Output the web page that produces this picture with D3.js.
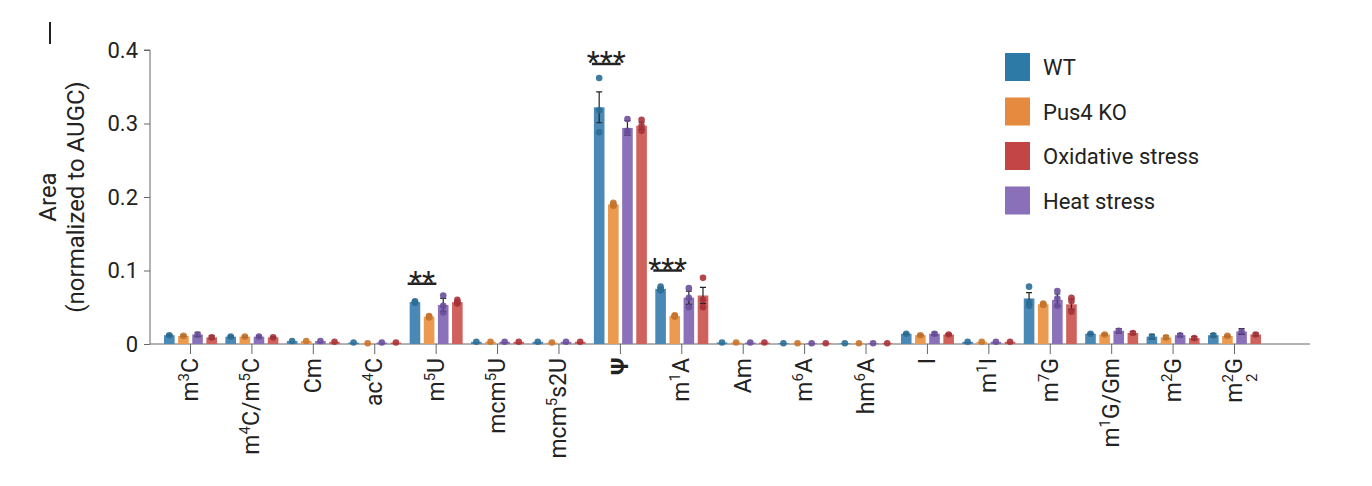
<!DOCTYPE html>
<html><head><meta charset="utf-8">
<script src="https://cdn.jsdelivr.net/npm/d3@7"></script>
<style>body{margin:0;background:#fff}text{font-family:Roboto,"Open Sans",sans-serif;fill:#222}</style>
</head><body>
<svg id="chart" width="1372" height="486"></svg>
<script>
// labels: [text, "n" normal | "sup" | "sub"]
const categories = ["m3C","m4C/m5C","Cm","ac4C","m5U","mcm5U","mcm5s2U","Ψ","m1A","Am","m6A","hm6A","I","m1I","m7G","m1G/Gm","m2G","m22G"];
const labelParts = [
  [["m","n"],["3","sup"],["C","n"]],
  [["m","n"],["4","sup"],["C/m","n"],["5","sup"],["C","n"]],
  [["Cm","n"]],
  [["ac","n"],["4","sup"],["C","n"]],
  [["m","n"],["5","sup"],["U","n"]],
  [["mcm","n"],["5","sup"],["U","n"]],
  [["mcm","n"],["5","sup"],["s2U","n"]],
  [["Ψ","n"]],
  [["m","n"],["1","sup"],["A","n"]],
  [["Am","n"]],
  [["m","n"],["6","sup"],["A","n"]],
  [["hm","n"],["6","sup"],["A","n"]],
  [["I","n"]],
  [["m","n"],["1","sup"],["I","n"]],
  [["m","n"],["7","sup"],["G","n"]],
  [["m","n"],["1","sup"],["G/Gm","n"]],
  [["m","n"],["2","sup"],["G","n"]],
  [["m","n"],["2","sup"],["2","sub"],["G","n"]]
];
const series = ["WT","Pus4 KO","Heat stress","Oxidative stress"];
const legendOrder = ["WT","Pus4 KO","Oxidative stress","Heat stress"];
const barColors = {"WT":"#4a88b5","Pus4 KO":"#eb9a50","Heat stress":"#8a71b9","Oxidative stress":"#d0625d"};
const dotColors = {"WT":"#2b6e96","Pus4 KO":"#c8742c","Heat stress":"#6a4f9c","Oxidative stress":"#a8323a"};
const legendColors = {"WT":"#2e7aa6","Pus4 KO":"#e58a3e","Oxidative stress":"#c44545","Heat stress":"#8a70b8"};

const wt   = [.012,.010,.004,.002,.057,.003,.003,.322,.075,.002,.001,.001,.014,.003,.062,.014,.010,.012];
const ko   = [.011,.010,.004,.001,.037,.003,.002,.190,.038,.002,.001,.001,.012,.003,.054,.013,.009,.011];
const heat = [.013,.010,.004,.002,.053,.003,.003,.294,.063,.002,.001,.001,.014,.003,.060,.018,.012,.017];
const ox   = [.009,.009,.003,.002,.057,.003,.003,.297,.066,.002,.001,.001,.013,.003,.054,.015,.008,.013];
const err  = {
  "WT":   [.001,.001,0,0,.001,0,0,.021,.002,0,0,0,.001,0,.008,.001,.003,.002],
  "Pus4 KO":[.001,.001,0,0,.001,0,0,.002,.001,0,0,0,.001,0,.001,.001,.002,.001],
  "Heat stress":[.003,.001,0,0,.009,0,0,.01,.009,0,0,0,.002,0,.008,.003,.002,.004],
  "Oxidative stress":[.002,.001,0,0,.002,0,0,.005,.011,0,0,0,.001,0,.007,.002,.002,.002]
};
// replicate points for the larger groups
const wtPts   = {4:[.057,.056,.058],7:[.362,.318,.288],8:[.078,.074,.073],14:[.078,.057,.052]};
const koPts   = {4:[.038,.037,.036],7:[.192,.189,.188],8:[.039,.038,.037],14:[.055,.054,.053]};
const heatPts = {4:[.066,.052,.043],7:[.306,.290,.287],8:[.076,.063,.050],14:[.072,.062,.052]};
const oxPts   = {4:[.060,.057,.055],7:[.305,.297,.290],8:[.090,.060,.050],14:[.063,.058,.044]};
const values = {"WT":wt,"Pus4 KO":ko,"Heat stress":heat,"Oxidative stress":ox};
const points = {"WT":wtPts,"Pus4 KO":koPts,"Heat stress":heatPts,"Oxidative stress":oxPts};
const yTicks = [0,0.1,0.2,0.3,0.4];
const sig = [{cat:"m5U",label:"**",y:0.082},{cat:"Ψ",label:"***",y:0.381},{cat:"m1A",label:"***",y:0.100}];

const svg = d3.select("#chart");
const x = d3.scalePoint().domain(categories).range([190,1234]);
const xs = d3.scaleBand().domain(series).range([-26,27]).paddingInner(0.25);
const y = d3.scaleLinear().domain([0,0.4]).range([344,50]);

// y axis
const ya = svg.append("g").attr("transform","translate(150,0)")
  .call(d3.axisLeft(y).tickValues(yTicks).tickSize(6).tickFormat(d=>d===0?"0":d3.format(".1f")(d)));
ya.select(".domain").attr("stroke","#666").attr("d","M-6,"+y(0.4)+"H0V"+y(0));
ya.selectAll(".tick line").attr("stroke","#666");
ya.selectAll(".tick text").attr("font-size",22).attr("fill","#222").attr("x",-12);

// x axis
const xa = svg.append("g").attr("transform","translate(0,344)")
  .call(d3.axisBottom(x).tickSize(10).tickFormat(""));
xa.select(".domain").attr("stroke","#666").attr("d","M150,0H1310");
xa.selectAll(".tick line").attr("stroke","#666");

// bars
categories.forEach((c,i)=>{
  series.forEach(s=>{
    const v = values[s][i], cx = x(c)+xs(s)+xs.bandwidth()/2;
    svg.append("rect").attr("x",x(c)+xs(s)).attr("width",xs.bandwidth())
      .attr("y",y(v)).attr("height",y(0)-y(v)).attr("fill",barColors[s]);
    const e = err[s][i];
    if(e>0){
      svg.append("path").attr("stroke","#222").attr("stroke-width",1.2).attr("fill","none")
        .attr("d",`M${cx},${y(v-e)}V${y(v+e)}M${cx-3},${y(v+e)}H${cx+3}M${cx-3},${y(v-e)}H${cx+3}`);
    }
    const pts = points[s][i] || [v];
    pts.forEach(p=>svg.append("circle").attr("cx",cx).attr("cy",y(p)).attr("r",3.3)
      .attr("fill",dotColors[s]).attr("opacity",0.9));
  });
});

// significance
sig.forEach(d=>{
  const x0 = x(d.cat)+xs("WT"), x1 = x(d.cat)+xs("Pus4 KO")+xs.bandwidth();
  svg.append("line").attr("x1",x0-2).attr("x2",x1+2).attr("y1",y(d.y)).attr("y2",y(d.y))
    .attr("stroke","#222").attr("stroke-width",2.5);
  svg.append("text").attr("x",(x0+x1)/2).attr("y",y(d.y)+8).attr("text-anchor","middle")
    .attr("font-size",30).text(d.label);
});

// x labels
categories.forEach((c,i)=>{
  const t = svg.append("text").attr("font-size",23).attr("text-anchor","end")
    .attr("font-weight",c==="Ψ"?"bold":"normal")
    .attr("transform",`translate(${x(c)+8},358) rotate(-90)`);
  let shift = 0;
  labelParts[i].forEach(([txt,k])=>{
    const sp = t.append("tspan").text(txt);
    if(k==="sup"){ sp.attr("font-size",15).attr("dy",-9-shift); shift=-9; }
    else if(k==="sub"){ sp.attr("font-size",15).attr("dy",15-shift).attr("dx",-8); shift=15; }
    else { if(shift!==0) sp.attr("dy",-shift); shift=0; }
  });
});

// y title
svg.append("text").attr("transform","translate(56,197) rotate(-90)").attr("text-anchor","middle")
  .attr("font-size",24).text("Area");
svg.append("text").attr("transform","translate(84,197) rotate(-90)").attr("text-anchor","middle")
  .attr("font-size",24).text("(normalized to AUGC)");
svg.append("line").attr("x1",50).attr("x2",50).attr("y1",22).attr("y2",44).attr("stroke","#222").attr("stroke-width",2);

// legend
legendOrder.forEach((s,i)=>{
  const ly = 53+i*44.5;
  svg.append("rect").attr("x",1005).attr("y",ly).attr("width",25).attr("height",28).attr("fill",legendColors[s]);
  svg.append("text").attr("x",1043).attr("y",ly+22).attr("font-size",22).text(s);
});
</script>
</body></html>
